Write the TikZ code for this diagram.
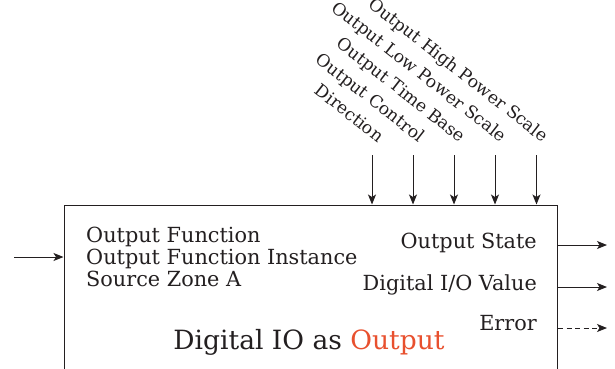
\documentclass[tikz,border=0pt]{standalone}
\usepackage{fontspec}
\setmainfont{DejaVu Serif}
\usetikzlibrary{arrows.meta,calc}
\definecolor{ink}{HTML}{231F20}
\definecolor{accent}{HTML}{E8502E}
\begin{document}
\begin{tikzpicture}[x=1pt,y=-1pt,
  font=\fontsize{20.8}{25}\selectfont,
  arr/.style={draw=ink, line width=1pt, -{Stealth[length=10pt,width=8pt,inset=2.5pt]}},
  darr/.style={arr, dash pattern=on 5pt off 3.5pt},
  lbl/.style={inner sep=0pt, text=ink},
  toplbl/.style={lbl, rotate=-38, anchor=base east, font=\fontsize{17.2}{20}\selectfont}]
\useasboundingbox (0,0) rectangle (615,368);
\clip (0,0) rectangle (615,368);
% main box
\node[draw=ink, line width=1pt, minimum width=493.5pt, minimum height=190pt,
      anchor=north west, inner sep=0pt] (box) at (63.5,204.5) {};
% title
\node[lbl, anchor=base, font=\fontsize{26.5}{30}\selectfont] (title) at (309,349.3)
  {Digital IO as \textcolor{accent}{Output}};
% left input
\coordinate (in) at (14,257);
\draw[arr] (in) -- (in -| box.west);
\node[lbl, anchor=base west] (l1) at (86,242) {Output Function};
\node[lbl, anchor=base west] (l2) at (86,264) {Output Function Instance};
\node[lbl, anchor=base west] (l3) at (86,286) {Source Zone A};
% right outputs
\node[lbl, anchor=base east] (r1) at (537,248.3) {Output State};
\node[lbl, anchor=base east] (r2) at (537,290) {Digital I/O Value};
\node[lbl, anchor=base east] (r3) at (537,330) {Error};
\coordinate (o1) at (607,245);
\coordinate (o2) at (607,287);
\coordinate (o3) at (607,328);
\draw[arr] (o1 -| box.east) -- (o1);
\draw[arr] (o2 -| box.east) -- (o2);
\draw[darr] (o3 -| box.east) -- (o3);
% top inputs
\foreach \x/\name/\txt in {372/t1/Direction, 413/t2/Output Control, 454/t3/Output Time Base, 495/t4/Output Low Power Scale, 536.5/t5/Output High Power Scale}{
  \coordinate (\name) at (\x,155);
  \draw[arr] (\name) -- (\name |- box.north);
  \node[toplbl] (\name lbl) at ($(\name)+(6,-12)$) {\txt};
}
\end{tikzpicture}
\end{document}
